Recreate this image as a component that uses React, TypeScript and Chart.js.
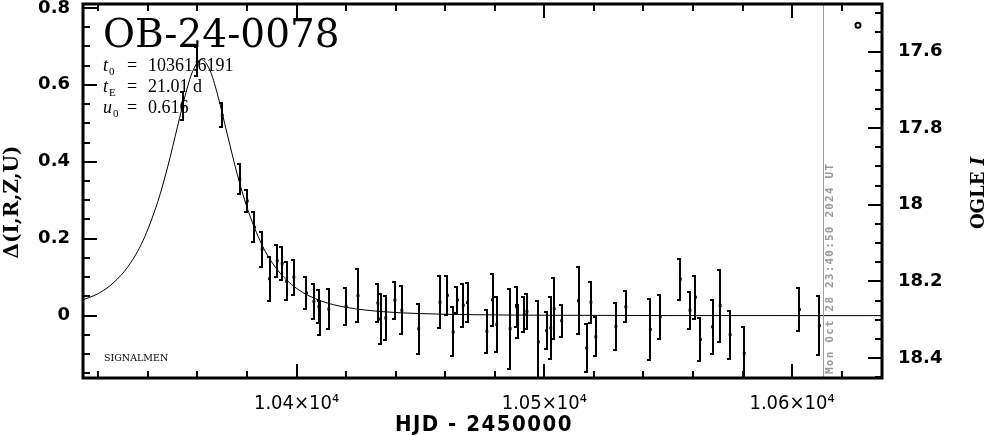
import React, { useEffect, useRef } from "react";
import { Chart, registerables } from "chart.js";

Chart.register(...registerables);

// ---- data ----
const obsT = [
  10354.2, 10359.9, 10370.0, 10377.1, 10380.1, 10383.0, 10386.1, 10389.1, 10392.2, 10394.2,
  10396.0, 10398.9, 10404.0, 10407.0, 10409.0, 10409.3, 10413.0, 10420.0, 10424.8, 10432.8,
  10433.9, 10436.0, 10439.7, 10442.5, 10449.3, 10457.9, 10460.9, 10463.2, 10464.9, 10467.3,
  10469.0, 10476.8, 10479.1, 10480.8, 10486.2, 10488.8, 10489.2, 10491.9, 10493.0, 10497.6,
  10500.9, 10502.6, 10504.0, 10507.0, 10513.8, 10517.1, 10518.8, 10520.8, 10528.9, 10532.9,
  10542.8, 10546.8, 10554.9, 10558.8, 10561.0, 10563.0, 10567.9, 10571.0, 10575.0, 10580.7,
  10603.0, 10611.0,
];
const obsD = [
  0.544, 0.660, 0.521, 0.355, 0.298, 0.230, 0.173, 0.096, 0.143, 0.136,
  0.089, 0.100, 0.059, 0.037, 0.024, -0.006, 0.017, 0.024, 0.052, 0.033,
  -0.009, -0.006, 0.040, 0.014, -0.034, 0.035, 0.053, -0.042, 0.041, 0.027,
  0.034, -0.041, 0.041, -0.023, -0.034, 0.023, -0.015, 0.003, 0.011, -0.068,
  -0.039, -0.032, 0.018, -0.013, 0.039, -0.084, 0.035, -0.055, -0.028, 0.023,
  -0.036, -0.003, 0.095, 0.014, 0.048, -0.062, -0.029, 0.026, -0.049, -0.098,
  0.016, -0.026,
];
const obsE = [
  0.039, 0.040, 0.034, 0.041, 0.030, 0.041, 0.048, 0.060, 0.044, 0.045,
  0.052, 0.048, 0.044, 0.048, 0.045, 0.048, 0.055, 0.051, 0.071, 0.052,
  0.068, 0.060, 0.050, 0.065, 0.068, 0.070, 0.053, 0.066, 0.037, 0.059,
  0.053, 0.058, 0.071, 0.074, 0.107, 0.054, 0.045, 0.047, 0.049, 0.110,
  0.050, 0.082, 0.082, 0.044, 0.089, 0.065, 0.056, 0.053, 0.063, 0.043,
  0.081, 0.059, 0.056, 0.050, 0.058, 0.058, 0.072, 0.096, 0.065, 0.070,
  0.059, 0.080,
];

const modelT = [
  10313, 10320, 10326, 10332, 10338, 10344, 10348, 10352, 10355, 10358,
  10361.62, 10365, 10368, 10372, 10376, 10380, 10386, 10392, 10400, 10410,
  10420, 10435, 10450, 10470, 10500, 10550, 10637,
];
const modelD = [
  0.0393, 0.0576, 0.0850, 0.1278, 0.1946, 0.2964, 0.3873, 0.4927, 0.5711, 0.6342,
  0.6655, 0.6382, 0.5773, 0.4724, 0.3689, 0.2814, 0.1845, 0.1213, 0.0709, 0.0381,
  0.0217, 0.0103, 0.0054, 0.0026, 0.0011, 0.0003, 0.0001,
];

const xRange = [10313.8, 10636.3];
const yRange = [-0.162, 0.81];
const magRange = [17.476, 18.452];

const xMajorTicks = [10400, 10500, 10600];
const xTickLabels = ["1.04×10⁴", "1.05×10⁴", "1.06×10⁴"];
const xMinorTicks = [10320, 10340, 10360, 10380, 10420, 10440, 10460, 10480, 10520, 10540, 10560, 10580, 10620];
const yMajorTicks = [0, 0.2, 0.4, 0.6, 0.8];
const yTickLabels = ["0", "0.2", "0.4", "0.6", "0.8"];
const yMinorTicks = [-0.15, -0.1, -0.05, 0.05, 0.1, 0.15, 0.25, 0.3, 0.35, 0.45, 0.5, 0.55, 0.65, 0.7, 0.75];
const magMajorTicks = [17.6, 17.8, 18, 18.2, 18.4];
const magTickLabels = ["17.6", "17.8", "18", "18.2", "18.4"];
const magMinorTicks = [17.5, 17.55, 17.65, 17.7, 17.75, 17.85, 17.9, 17.95, 18.05, 18.1, 18.15, 18.25, 18.3, 18.35, 18.45];

const timestampT = 10612.5;
const timestampText = "Mon Oct 28 23:40:50 2024 UT";
const markerT = 10626.6;
const markerD = 0.755;

const eventName = "OB-24-0078";
const paramT0 = "10361.6191";
const paramTE = "21.01 d";
const paramU0 = "0.616";

const overlayPlugin = {
  id: "overlay",
  afterDatasetsDraw(chart: any) {
    const ctx = chart.ctx;
    const ca = chart.chartArea;
    const xs = chart.scales.x;
    const ys = chart.scales.y;
    ctx.save();
    ctx.beginPath();
    ctx.rect(ca.left, ca.top, ca.right - ca.left, ca.bottom - ca.top);
    ctx.clip();
    // error bars
    ctx.strokeStyle = "#000";
    ctx.lineWidth = 2;
    for (let i = 0; i < obsT.length; i++) {
      const px = Math.round(xs.getPixelForValue(obsT[i]));
      const pt = Math.round(ys.getPixelForValue(obsD[i] + obsE[i]));
      const pb = Math.round(ys.getPixelForValue(obsD[i] - obsE[i]));
      ctx.beginPath();
      ctx.moveTo(px, pt);
      ctx.lineTo(px, pb);
      ctx.stroke();
      ctx.beginPath();
      ctx.moveTo(px - 3, pt + 1);
      ctx.lineTo(px + 1, pt + 1);
      ctx.moveTo(px - 3, pb - 1);
      ctx.lineTo(px + 1, pb - 1);
      ctx.stroke();
    }
    // timestamp line
    const tx = Math.round(xs.getPixelForValue(timestampT)) + 0.5;
    ctx.strokeStyle = "#a0a0a0";
    ctx.lineWidth = 1;
    ctx.beginPath();
    ctx.moveTo(tx, ca.top);
    ctx.lineTo(tx, ca.bottom);
    ctx.stroke();
    ctx.restore();

    // timestamp text
    ctx.save();
    ctx.translate(tx + 9, ca.bottom - 4);
    ctx.rotate(-Math.PI / 2);
    ctx.fillStyle = "#999";
    ctx.font = "bold 11px 'DejaVu Sans Mono', monospace";
    (ctx as any).letterSpacing = "1.2px";
    ctx.textAlign = "left";
    ctx.textBaseline = "alphabetic";
    ctx.fillText(timestampText, 0, 0);
    ctx.restore();

    // legend marker
    ctx.save();
    ctx.strokeStyle = "#000";
    ctx.lineWidth = 2;
    ctx.beginPath();
    ctx.arc(xs.getPixelForValue(markerT), ys.getPixelForValue(markerD), 2.5, 0, Math.PI * 2);
    ctx.stroke();
    ctx.restore();
  },
  afterDraw(chart: any) {
    const ctx = chart.ctx;
    const ca = chart.chartArea;
    const xs = chart.scales.x;
    const ys = chart.scales.y;
    const ms = chart.scales.y2;
    ctx.save();
    ctx.strokeStyle = "#000";
    ctx.lineWidth = 3;
    ctx.strokeRect(ca.left, ca.top, ca.right - ca.left, ca.bottom - ca.top);
    ctx.lineWidth = 2;
    ctx.beginPath();
    const hTick = (v: number, len: number) => {
      const px = Math.round(xs.getPixelForValue(v));
      ctx.moveTo(px, ca.bottom);
      ctx.lineTo(px, ca.bottom - len);
      ctx.moveTo(px, ca.top);
      ctx.lineTo(px, ca.top + len);
    };
    xMajorTicks.forEach((v) => hTick(v, 14));
    xMinorTicks.forEach((v) => hTick(v, 7));
    yMajorTicks.forEach((v) => {
      const py = Math.round(ys.getPixelForValue(v));
      ctx.moveTo(ca.left, py);
      ctx.lineTo(ca.left + 14, py);
    });
    yMinorTicks.forEach((v) => {
      const py = Math.round(ys.getPixelForValue(v));
      ctx.moveTo(ca.left, py);
      ctx.lineTo(ca.left + 7, py);
    });
    magMajorTicks.forEach((v) => {
      const py = Math.round(ms.getPixelForValue(v));
      ctx.moveTo(ca.right, py);
      ctx.lineTo(ca.right - 14, py);
    });
    magMinorTicks.forEach((v) => {
      const py = Math.round(ms.getPixelForValue(v));
      ctx.moveTo(ca.right, py);
      ctx.lineTo(ca.right - 7, py);
    });
    ctx.stroke();

    // title and parameters
    ctx.fillStyle = "#000";
    ctx.textAlign = "left";
    ctx.textBaseline = "alphabetic";
    ctx.font = "39px 'DejaVu Serif', serif";
    ctx.fillText(eventName, 103, 47);

    const param = (sym: string, sub: string, val: string, base: number) => {
      ctx.font = "italic 18px 'Liberation Serif', serif";
      ctx.fillText(sym, 103, base);
      ctx.font = "11px 'Liberation Serif', serif";
      ctx.fillText(sub, sym === "u" ? 113 : 109, base + 4);
      ctx.font = "18px 'Liberation Serif', serif";
      ctx.fillText("=", 127, base);
      ctx.fillText(val, 148, base);
    };
    param("t", "0", paramT0, 71);
    param("t", "E", paramTE, 92);
    param("u", "0", paramU0, 113);

    ctx.font = "9.5px 'DejaVu Serif', serif";
    ctx.fillText("SIGNALMEN", 104, 361);

    // axis titles
    ctx.save();
    ctx.font = "bold 22px 'Liberation Sans Narrow', 'DejaVu Sans Condensed', 'DejaVu Sans', sans-serif";
    (ctx as any).letterSpacing = "1.5px";
    ctx.textAlign = "center";
    ctx.fillText("HJD - 2450000", 484, 431);
    ctx.restore();

    ctx.save();
    ctx.translate(18, 202);
    ctx.rotate(-Math.PI / 2);
    ctx.font = "bold 20px 'DejaVu Serif', serif";
    ctx.textAlign = "center";
    ctx.fillText("Δ(I,R,Z,U)", 0, 0);
    ctx.restore();

    ctx.save();
    ctx.translate(984, 193);
    ctx.rotate(-Math.PI / 2);
    ctx.font = "bold 18px 'DejaVu Serif', serif";
    const w1 = ctx.measureText("OGLE ").width;
    ctx.font = "bold italic 18px 'DejaVu Serif', serif";
    const w2 = ctx.measureText("I").width;
    ctx.textAlign = "left";
    ctx.font = "bold 18px 'DejaVu Serif', serif";
    ctx.fillText("OGLE ", -(w1 + w2) / 2, 0);
    ctx.font = "bold italic 18px 'DejaVu Serif', serif";
    ctx.fillText("I", -(w1 + w2) / 2 + w1, 0);
    ctx.restore();

    ctx.restore();
  },
};

const noPadV = (s: any) => {
  s.paddingTop = 0;
  s.paddingBottom = 0;
};

export default function App() {
  const ref = useRef<HTMLCanvasElement>(null);
  useEffect(() => {
    if (!ref.current) return;
    const chart = new Chart(ref.current, {
      type: "scatter",
      data: {
        datasets: [
          {
            type: "line",
            data: modelT.map((t, i) => ({ x: t, y: modelD[i] })),
            borderColor: "#000",
            borderWidth: 1,
            pointRadius: 0,
            cubicInterpolationMode: "monotone",
            fill: false,
            yAxisID: "y",
          } as any,
          {
            type: "scatter",
            data: obsT.map((t, i) => ({ x: t, y: obsD[i] })),
            pointStyle: "rect",
            pointRadius: 2,
            backgroundColor: "#000",
            borderColor: "#000",
            borderWidth: 0,
            yAxisID: "y",
          } as any,
        ],
      },
      options: {
        responsive: false,
        animation: false,
        devicePixelRatio: 1,
        layout: { padding: { top: 4, left: 0, right: 0, bottom: 0 } },
        plugins: { legend: { display: false }, tooltip: { enabled: false } },
        scales: {
          x: {
            type: "linear",
            position: "bottom",
            min: xRange[0],
            max: xRange[1],
            grid: { display: false, drawTicks: false },
            border: { display: false },
            afterBuildTicks: (s: any) => {
              s.ticks = xMajorTicks.map((v) => ({ value: v }));
            },
            afterFit: (s: any) => {
              s.height = 58;
              s.paddingLeft = 0;
              s.paddingRight = 0;
            },
            ticks: {
              padding: 14,
              maxRotation: 0,
              color: "#000",
              font: { family: "'Liberation Sans Narrow', 'DejaVu Sans Condensed', 'DejaVu Sans', sans-serif", size: 20 },
              callback: (_v: any, i: number) => xTickLabels[i],
            },
          },
          y: {
            type: "linear",
            position: "left",
            min: yRange[0],
            max: yRange[1],
            grid: { display: false, drawTicks: false },
            border: { display: false },
            afterBuildTicks: (s: any) => {
              s.ticks = yMajorTicks.map((v) => ({ value: v }));
            },
            afterFit: (s: any) => {
              s.width = 83;
              noPadV(s);
            },
            ticks: {
              padding: 13,
              color: "#000",
              font: { family: "'DejaVu Sans', sans-serif", size: 18, weight: "bold" },
              callback: (_v: any, i: number) => yTickLabels[i],
            },
          },
          y2: {
            type: "linear",
            position: "right",
            reverse: true,
            min: magRange[0],
            max: magRange[1],
            grid: { display: false, drawTicks: false },
            border: { display: false },
            afterBuildTicks: (s: any) => {
              s.ticks = magMajorTicks.map((v) => ({ value: v }));
            },
            afterFit: (s: any) => {
              s.width = 104;
              noPadV(s);
            },
            ticks: {
              padding: 16,
              color: "#000",
              font: { family: "'DejaVu Sans', sans-serif", size: 18, weight: "bold" },
              callback: (_v: any, i: number) => magTickLabels[i],
            },
          },
        },
      } as any,
      plugins: [overlayPlugin],
    });
    return () => chart.destroy();
  }, []);
  return (
    <div style={{ position: "absolute", left: 0, top: 0, width: 986, height: 436 }}>
      <canvas ref={ref} width={986} height={436} style={{ display: "block", width: 986, height: 436 }} />
    </div>
  );
}
